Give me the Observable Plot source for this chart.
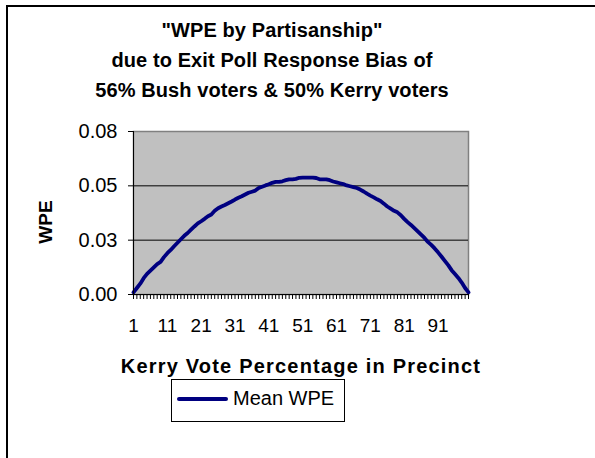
<!DOCTYPE html>
<html><head><meta charset="utf-8">
<script src="https://cdn.jsdelivr.net/npm/d3@7"></script>
<script src="https://cdn.jsdelivr.net/npm/@observablehq/plot@0.6"></script>
<style>
html,body{margin:0;padding:0;background:#fff;}
body{width:595px;height:458px;overflow:hidden;position:relative;font-family:"Liberation Sans",Arial,sans-serif;color:#000;}
#frame{position:absolute;left:6px;top:5px;width:700px;height:600px;border-top:2px solid #000;border-left:2px solid #000;}
#title{position:absolute;left:0;top:15px;width:544px;text-align:center;font-weight:bold;font-size:20px;line-height:30px;letter-spacing:0.1px;}
#chart{position:absolute;left:0;top:110px;}
#ytitle{position:absolute;left:46px;top:222px;transform:translate(-50%,-50%) rotate(-90deg);font-weight:bold;font-size:19px;line-height:20px;white-space:nowrap;}
#xtitle{position:absolute;left:0;top:351px;width:602px;text-align:center;font-weight:bold;font-size:20px;line-height:30px;letter-spacing:1.2px;z-index:2;}
#legend{position:absolute;left:171px;top:379px;width:172px;height:41px;border:1px solid #000;z-index:1;}
#legend .sw{position:absolute;left:5px;top:17px;width:51px;height:4px;background:#000080;border-radius:2px;}
#legend .lb{position:absolute;left:61px;top:6px;font-size:20px;line-height:24px;}
</style></head><body>
<div id="frame"></div>
<div id="title"></div>
<div id="chart"></div>
<div id="ytitle"></div>
<div id="xtitle"></div>
<div id="legend"><div class="sw"></div><div class="lb"></div></div>
<script>
const titleLines = ["\"WPE by Partisanship\"", "due to Exit Poll Response Bias of", "56% Bush voters & 50% Kerry voters"];
const xTitle = "Kerry Vote Percentage in Precinct";
const yTitle = "WPE";
const seriesName = "Mean WPE";
const categories = Array.from({length: 100}, (_, i) => i + 1);
const xTickLabels = [1, 11, 21, 31, 41, 51, 61, 71, 81, 91];
const yTicks = [0, 0.025, 0.05, 0.075];
const yTickLabels = ["0.00", "0.03", "0.05", "0.08"];
const meanWPE = [
  0.001, 0.003, 0.005, 0.0075, 0.0095, 0.011, 0.0125, 0.014, 0.015, 0.0172,
  0.019, 0.0205, 0.0222, 0.0238, 0.0254, 0.027, 0.0283, 0.0298, 0.0313, 0.0327,
  0.0337, 0.0348, 0.036, 0.0368, 0.0385, 0.0397, 0.0405, 0.0412, 0.042, 0.0428,
  0.0437, 0.0445, 0.0452, 0.046, 0.0468, 0.0473, 0.0478, 0.049, 0.0496, 0.0502,
  0.0507, 0.0514, 0.0518, 0.0518, 0.0521, 0.0526, 0.053, 0.053, 0.0532, 0.0537,
  0.0538, 0.0538, 0.0538, 0.0538, 0.0536, 0.053, 0.053, 0.053, 0.0526, 0.052,
  0.0516, 0.0512, 0.0508, 0.0502, 0.0498, 0.0494, 0.049, 0.0483, 0.0474, 0.0464,
  0.0455, 0.0447, 0.0438, 0.043, 0.0418, 0.0405, 0.0395, 0.0385, 0.0378, 0.0365,
  0.0348, 0.0333, 0.032, 0.0305, 0.029, 0.0275, 0.026, 0.0242, 0.0228, 0.0212,
  0.0194, 0.0175, 0.0155, 0.0135, 0.0112, 0.0094, 0.0076, 0.0055, 0.003, 0.001
];

document.getElementById("title").innerHTML = titleLines.map(t => `<div>${t.replace(/&/g,"&amp;")}</div>`).join("");
document.getElementById("xtitle").textContent = xTitle;
document.getElementById("ytitle").textContent = yTitle;
document.querySelector("#legend .lb").textContent = seriesName;

const data = categories.map((c, i) => ({x: c, y: meanWPE[i]}));
const yDomain = [0, 0.075];
// minor tick length below the axis, expressed in y units (5px of the 163px plot height)
const tickLen = 5 * (yDomain[1] - yDomain[0]) / 163;
const chart = Plot.plot({
  width: 595, height: 240,
  marginLeft: 133, marginRight: 127, marginTop: 21, marginBottom: 56,
  x: {type: "linear", domain: [1, 100]},
  y: {domain: yDomain},
  style: {fontFamily: "'Liberation Sans', Arial, sans-serif", fontSize: "19px", background: "transparent", color: "#000", overflow: "visible"},
  marks: [
    Plot.frame({fill: "#c0c0c0", stroke: "#808080", strokeWidth: 1.5}),
    Plot.ruleY([0.025, 0.05], {stroke: "#000", strokeWidth: 1}),
    Plot.line(data, {x: "x", y: "y", stroke: "#000080", strokeWidth: 3.8}),
    Plot.ruleX([1], {stroke: "#000", strokeWidth: 1}),
    Plot.ruleY([0], {stroke: "#000", strokeWidth: 1}),
    Plot.ruleX(categories, {x: d => d, y1: 0, y2: -tickLen, stroke: "#000", strokeWidth: 1}),
    Plot.axisY({ticks: yTicks, tickFormat: d => yTickLabels[yTicks.indexOf(d)], tickSize: 5, tickPadding: 11, fontSize: 20, label: null}),
    Plot.axisX({ticks: xTickLabels, tickSize: 0, tickPadding: 24, fontSize: 19, label: null})
  ]
});
document.getElementById("chart").appendChild(chart);
</script>
</body></html>
